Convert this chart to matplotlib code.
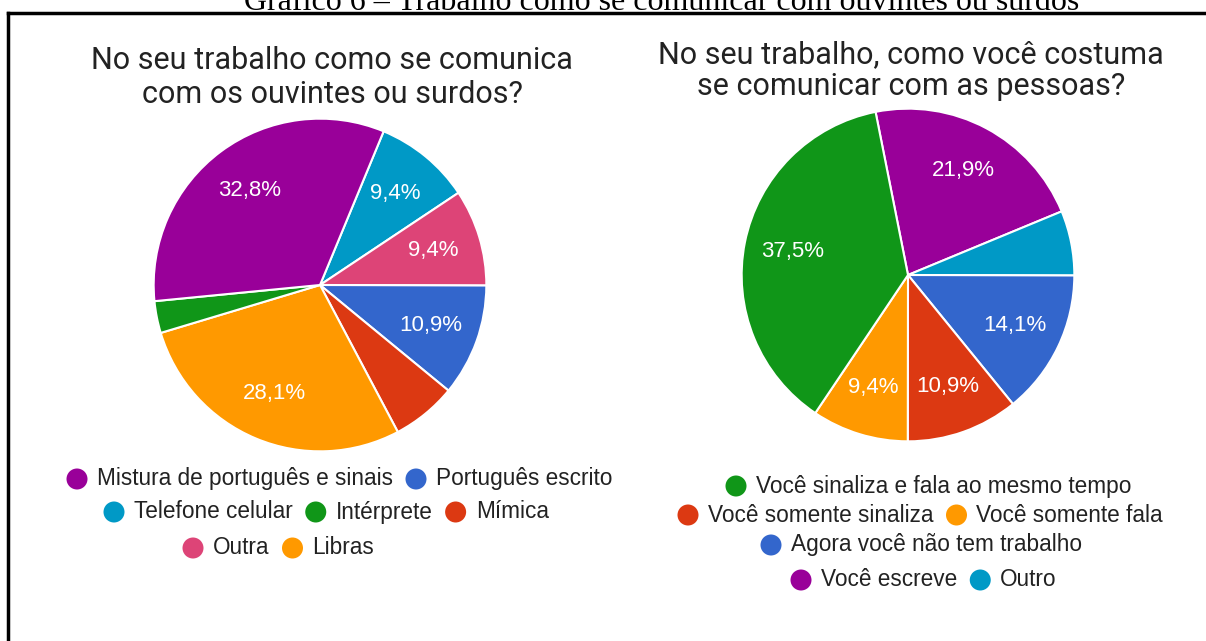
import matplotlib.pyplot as plt
from matplotlib.patches import Circle
from matplotlib.lines import Line2D

W, H = 1206, 641

# ---- data ----
caption = "Gráfico 6 – Trabalho como se comunicar com ouvintes ou surdos"

left_title = ["No seu trabalho como se comunica", "com os ouvintes ou surdos?"]
left_labels = ["Mistura de português e sinais", "Português escrito", "Telefone celular",
               "Intérprete", "Mímica", "Outra", "Libras"]
left_pct = [32.8, 10.9, 9.4, 3.1, 6.3, 9.4, 28.1]
left_colors = ["#990099", "#3366cc", "#0099c6", "#109618", "#dc3912", "#dd4477", "#ff9900"]
# clockwise drawing order from the top
left_order = [2, 5, 1, 4, 6, 3, 0]
left_rows = [[0, 1], [2, 3, 4], [5, 6]]

right_title = ["No seu trabalho, como você costuma", "se comunicar com as pessoas?"]
right_labels = ["Você sinaliza e fala ao mesmo tempo", "Você somente sinaliza", "Você somente fala",
                "Agora você não tem trabalho", "Você escreve", "Outro"]
right_pct = [37.5, 10.9, 9.4, 14.1, 21.9, 6.3]
right_colors = ["#109618", "#dc3912", "#ff9900", "#3366cc", "#990099", "#0099c6"]
right_order = [4, 5, 3, 1, 2, 0]
right_rows = [[0], [1, 2], [3], [4, 5]]

fig = plt.figure(figsize=(W / 100, H / 100), dpi=100)
fig.patch.set_facecolor("white")

# overlay axes in pixel coordinates for texts, legend and border
ov = fig.add_axes([0, 0, 1, 1])
ov.set_xlim(0, W)
ov.set_ylim(H, 0)
ov.axis("off")
ov.set_zorder(2)
ov.patch.set_alpha(0)


def fmt(p):
    return "" if p < 7 else f"{p:.1f}%".replace(".", ",")


def draw_pie(cx, cy, r, pct, colors, order, start):
    ax = fig.add_axes([(cx - r) / W, (H - cy - r) / H, 2 * r / W, 2 * r / H])
    vals = [pct[i] for i in order]
    cols = [colors[i] for i in order]
    ax.pie(vals, colors=cols, startangle=start, counterclock=False,
           autopct=fmt, pctdistance=0.71,
           wedgeprops=dict(edgecolor="white", linewidth=1.5),
           textprops=dict(color="white", fontsize=16, family="Liberation Sans"))
    ax.set_xlim(-1.01, 1.01)
    ax.set_ylim(-1.01, 1.01)
    return ax


draw_pie(320, 285, 168, left_pct, left_colors, left_order, 67.5)
draw_pie(908, 275, 168, right_pct, right_colors, right_order, 101.25)

# titles
tkw = dict(ha="center", va="baseline", fontsize=22, family="Roboto", color="#222222")
ov.text(332, 69, left_title[0], **tkw)
ov.text(332, 103, left_title[1], **tkw)
ov.text(911, 63, right_title[0], **tkw)
ov.text(911, 95, right_title[1], **tkw)

# caption above the frame (cut off by the top edge, as in the source)
ov.text(662, 10, caption, ha="center", va="baseline", fontsize=23,
        family="Liberation Serif", color="black", clip_on=False)

# frame
ov.add_line(Line2D([8, 8], [H + 5, 13], color="black", lw=2.5))
ov.add_line(Line2D([8, W + 5], [13, 13], color="black", lw=2.5))

renderer = fig.canvas.get_renderer()


def draw_legend(rows, starts, ys, labels, colors):
    for row, x0, y in zip(rows, starts, ys):
        x = x0
        for i in row:
            ov.add_patch(Circle((x, y), 10.5, color=colors[i], lw=0))
            t = ov.text(x + 20, y, labels[i], ha="left", va="center", fontsize=16.3,
                        family="Liberation Sans", color="#222222")
            w = t.get_window_extent(renderer).width
            x = x + 20 + w + 23


draw_legend(left_rows, [77, 114, 193], [479, 512, 548], left_labels, left_colors)
draw_legend(right_rows, [736, 688, 771, 801], [486, 515, 545, 580], right_labels, right_colors)

fig.savefig("out.png", dpi=100, facecolor="white")
